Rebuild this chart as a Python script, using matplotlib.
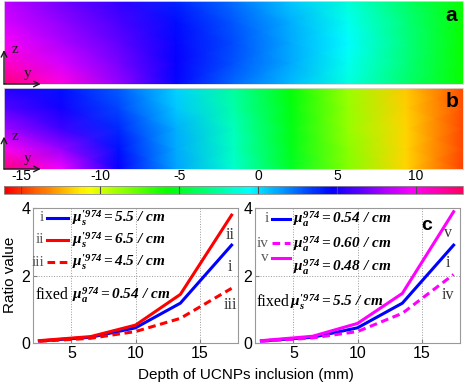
import numpy as np
import matplotlib
matplotlib.use('Agg')
import matplotlib.pyplot as plt
from matplotlib.colors import ListedColormap, Normalize
from matplotlib.cm import ScalarMappable

plt.rcParams['font.family'] = 'Liberation Sans'
plt.rcParams['axes.unicode_minus'] = False
plt.rcParams['mathtext.fontset'] = 'custom'
plt.rcParams['mathtext.rm'] = 'Liberation Serif:bold:italic'
plt.rcParams['mathtext.it'] = 'Liberation Serif:bold:italic'
plt.rcParams['mathtext.bf'] = 'Liberation Serif:bold:italic'

# ---- field maps (colour value), rows bottom -> top, columns left -> right
map_x = np.linspace(0, 1, 9)
map_z = np.linspace(0, 1, 5)
field_a = [
    [12.5, 10.3, 7.6, 4.7, 2.5, 0.75, -1.15, -3.45, -5.8],
    [11.0, 9.0, 7.0, 4.8, 2.9, 1.1, -0.8, -3.2, -5.8],
    [9.8, 8.1, 6.6, 4.7, 3.0, 1.2, -0.5, -3.1, -5.8],
    [9.0, 7.5, 6.0, 4.4, 2.8, 1.0, -0.8, -3.2, -5.8],
    [8.4, 6.9, 5.5, 4.0, 2.4, 0.6, -1.3, -3.5, -5.8],
]
field_b = [
    [12.5, 9.5, 4.8, 1.4, -1.6, -4.9, -8.3, -11.7, -14.7],
    [10.0, 7.6, 4.3, 1.2, -1.8, -5.1, -8.4, -11.7, -14.6],
    [7.8, 5.8, 3.8, 1.0, -2.0, -5.3, -8.6, -11.7, -14.6],
    [6.4, 5.0, 3.2, 0.6, -2.3, -5.4, -8.7, -11.8, -14.5],
    [5.3, 4.3, 2.7, 0.3, -2.5, -5.6, -8.9, -11.9, -14.5],
]
cbar_ticks = [-15, -10, -5, 0, 5, 10]
cbar_min, cbar_max = -16.1, 13.0

# ---- ratio curves
depth = [2.5, 6.5, 10, 13.5, 17.5]
ratio_mus55 = [0.06, 0.17, 0.45, 1.18, 2.90]
ratio_mus65 = [0.07, 0.19, 0.53, 1.44, 3.79]
ratio_mus45 = [0.05, 0.14, 0.34, 0.73, 1.62]
ratio_mua060 = [0.05, 0.15, 0.34, 0.88, 2.03]
ratio_mua048 = [0.07, 0.20, 0.58, 1.47, 3.89]

W, H = 466, 383
fig = plt.figure(figsize=(W / 100, H / 100), dpi=100)


def px_axes(l, t, r, b):
    return fig.add_axes([l / W, 1 - b / H, (r - l) / W, (b - t) / H])


cmap = ListedColormap(plt.cm.hsv(np.linspace(0, 0.95, 256)))
norm = Normalize(cbar_min, cbar_max)


def field_panel(ax, field, label, arrow_top):
    X, Z = np.meshgrid(map_x, map_z)
    ax.pcolormesh(X, Z, np.array(field), cmap=cmap, norm=norm, shading='gouraud')
    ax.set_xlim(0, 1)
    ax.set_ylim(0, 1)
    ax.set_xticks([])
    ax.set_yticks([])
    for s in ax.spines.values():
        s.set_color('0.85')
        s.set_linewidth(0.6)
    ax.text(0.975, 0.83, label, transform=ax.transAxes, ha='center', va='center',
            fontsize=15, fontweight='bold')
    ap = dict(arrowstyle='->', color='0.1', lw=1.0, shrinkA=0, shrinkB=0)
    ax.annotate('', xy=(0.0, arrow_top), xytext=(0.0, 0.0), xycoords='axes fraction',
                arrowprops=ap, annotation_clip=False)
    ax.annotate('', xy=(0.08, 0.0), xytext=(0.0, 0.0), xycoords='axes fraction',
                arrowprops=ap, annotation_clip=False)
    ax.text(0.016, arrow_top, 'z', transform=ax.transAxes, family='Liberation Serif',
            fontsize=11, va='center', ha='left', color='0.1')
    ax.text(0.052, 0.13, 'y', transform=ax.transAxes, family='Liberation Serif',
            fontsize=11, va='center', ha='center', color='0.1')


ax_a = px_axes(4, 1, 463, 84)
field_panel(ax_a, field_a, 'a', 0.41)
ax_b = px_axes(4, 88, 463, 169)
field_panel(ax_b, field_b, 'b', 0.40)

cax = px_axes(4, 186, 463, 194)
cb = fig.colorbar(ScalarMappable(norm=norm, cmap=cmap), cax=cax, orientation='horizontal',
                  ticks=cbar_ticks)
cax.xaxis.set_ticks_position('top')
cax.tick_params(length=0, pad=2, labelsize=10)
cb.outline.set_edgecolor('0.55')
cb.outline.set_linewidth(0.6)
for t in cbar_ticks:
    cax.axvline(t, color='0.3', lw=0.8)

# ---- ratio plots
ax_l = px_axes(33, 208, 238, 343)
ax_r = px_axes(255, 208, 460, 343)
for ax in (ax_l, ax_r):
    ax.set_xlim(2, 18)
    ax.set_ylim(0, 4)
    ax.set_xticks([5, 10, 15])
    ax.set_yticks([0, 2, 4])
    ax.grid(True, linestyle=':', color='0.6', lw=0.7)
    ax.tick_params(direction='in', length=3, labelsize=11.5, pad=2, color='0.5')
    for s in ax.spines.values():
        s.set_color('0.6')
        s.set_linewidth(0.8)

lw = 2.2
dash = (0, (2.5, 1.5))
ax_l.plot(depth, ratio_mus55, color='blue', lw=lw)
ax_l.plot(depth, ratio_mus65, color='red', lw=lw)
ax_l.plot(depth, ratio_mus45, color='red', lw=lw, ls=dash)

ax_r.plot(depth, ratio_mus55, color='blue', lw=lw)
ax_r.plot(depth, ratio_mua060, color='magenta', lw=lw, ls=dash)
ax_r.plot(depth, ratio_mua048, color='magenta', lw=lw)

serif = 'Liberation Serif'


def legend_row(ax, roman, xr, x0, x1, xl, yline, ylab, color, ls, label):
    ax.text(xr, yline, roman, transform=ax.transAxes, ha='right', va='center',
            family=serif, fontsize=11, color='0.35')
    ax.plot([x0, x1], [yline, yline], transform=ax.transAxes, color=color, lw=lw, ls=ls,
            clip_on=False)
    ax.text(xl, ylab, label, transform=ax.transAxes, ha='left', va='center', fontsize=11)


legend_row(ax_l, 'i', 0.054, 0.068, 0.171, 0.19, 0.926, 0.926, 'blue', '-',
           r"$\mu_s^{\prime 974}=5.5\ /\ cm$")
legend_row(ax_l, 'ii', 0.054, 0.068, 0.171, 0.19, 0.763, 0.763, 'red', '-',
           r"$\mu_s^{\prime 974}=6.5\ /\ cm$")
legend_row(ax_l, 'iii', 0.054, 0.068, 0.171, 0.19, 0.60, 0.60, 'red', dash,
           r"$\mu_s^{\prime 974}=4.5\ /\ cm$")
ax_l.text(0.01, 0.356, 'fixed', transform=ax_l.transAxes, ha='left', va='center',
          family=serif, fontsize=11.5)
ax_l.text(0.19, 0.356, r"$\mu_a^{974}=0.54\ /\ cm$", transform=ax_l.transAxes,
          ha='left', va='center', fontsize=11)
for txt, (fx, fy) in zip(['ii', 'i', 'iii'], [(0.961, 0.80), (0.961, 0.563), (0.961, 0.281)]):
    ax_l.text(fx, fy, txt, transform=ax_l.transAxes, ha='center', va='center',
              family=serif, fontsize=11.5, color='0.2')

legend_row(ax_r, 'i', 0.068, 0.083, 0.171, 0.185, 0.919, 0.919, 'blue', '-',
           r"$\mu_a^{974}=0.54\ /\ cm$")
legend_row(ax_r, 'iv', 0.068, 0.083, 0.171, 0.185, 0.74, 0.733, 'magenta', dash,
           r"$\mu_a^{974}=0.60\ /\ cm$")
legend_row(ax_r, 'v', 0.068, 0.083, 0.171, 0.185, 0.63, 0.563, 'magenta', '-',
           r"$\mu_a^{974}=0.48\ /\ cm$")
ax_r.text(0.005, 0.304, 'fixed', transform=ax_r.transAxes, ha='left', va='center',
          family=serif, fontsize=11.5)
ax_r.text(0.17, 0.304, r"$\mu_s^{\prime 974}=5.5\ /\ cm$", transform=ax_r.transAxes,
          ha='left', va='center', fontsize=11)
for txt, (fx, fy) in zip(['v', 'i', 'iv'], [(0.941, 0.815), (0.941, 0.593), (0.941, 0.356)]):
    ax_r.text(fx, fy, txt, transform=ax_r.transAxes, ha='center', va='center',
              family=serif, fontsize=11.5, color='0.2')
ax_r.text(0.839, 0.874, 'c', transform=ax_r.transAxes, ha='center', va='center',
          fontsize=14, fontweight='bold')

fig.text(10 / W, 1 - 275 / H, 'Ratio value', rotation=90, ha='center', va='center',
         fontsize=11)
fig.text(246 / W, 1 - 375 / H, 'Depth of UCNPs inclusion (mm)', ha='center', va='center',
         fontsize=11)

fig.savefig('out.png', dpi=100)
